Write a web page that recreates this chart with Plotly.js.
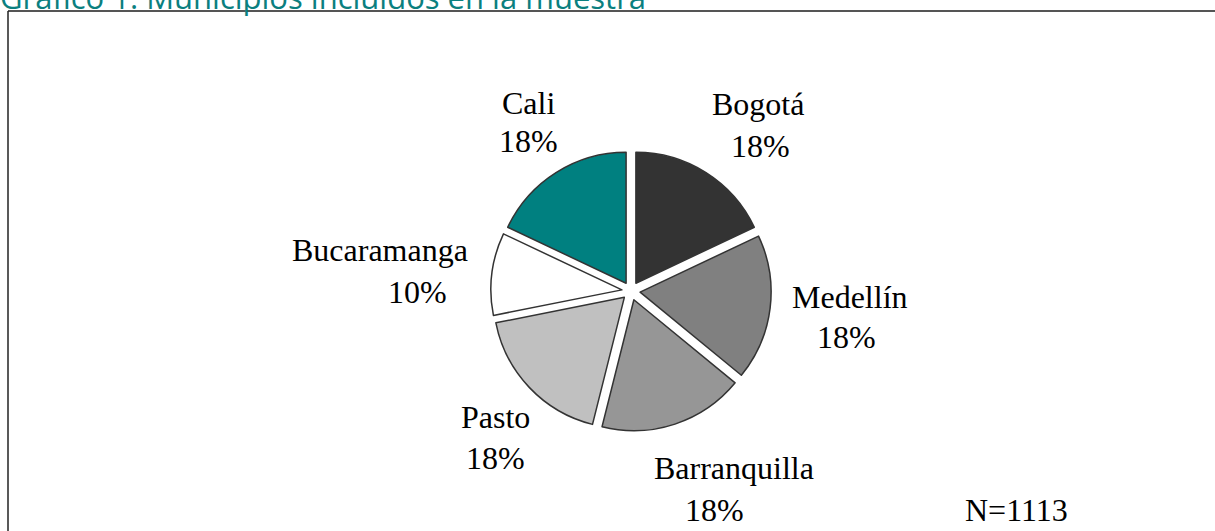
<!DOCTYPE html>
<html>
<head>
<meta charset="utf-8">
<script src="https://cdn.plot.ly/plotly-3.0.1.min.js"></script>
<style>html,body{margin:0;padding:0;background:#fff;}#chart{width:1215px;height:531px;}</style>
</head>
<body>
<div id="chart"></div>
<script>
// ---- data ----
const titleText = 'Gráfico 1: Municipios incluidos en la muestra';
const labels = ['Bogotá', 'Medellín', 'Barranquilla', 'Pasto', 'Bucaramanga', 'Cali'];
const values = [200, 200, 200, 200, 113, 200];
const sampleNote = 'N=1113';

// ---- styles / layout ----
const colors = ['#333333', '#808080', '#969696', '#c0c0c0', '#ffffff', '#008080'];
const W = 1215, H = 531;
// label centres in pixels: [name x, name y, pct x, pct y]
const labelPos = [
  [758, 104, 760, 146],
  [850, 297, 846, 337],
  [734, 468, 714, 510],
  [495, 417, 495, 458],
  [380, 250, 417, 292],
  [528, 103, 528, 141]
];
const cx = 631, cy = 291, r = 131, pull = 0.07;
const half = r * (1 + pull);

const total = values.reduce((a, b) => a + b, 0);
const pct = values.map(v => Math.round(100 * v / total) + '%');

const px = x => x / W;
const py = y => 1 - y / H;
const serif = {family: 'Liberation Serif, Times New Roman, serif', size: 32, color: '#000'};

const annotations = [];
labels.forEach((lab, i) => {
  const p = labelPos[i];
  annotations.push({text: lab, x: px(p[0]), y: py(p[1]), xref: 'paper', yref: 'paper',
    xanchor: 'center', yanchor: 'middle', showarrow: false, font: serif});
  annotations.push({text: pct[i], x: px(p[2]), y: py(p[3]), xref: 'paper', yref: 'paper',
    xanchor: 'center', yanchor: 'middle', showarrow: false, font: serif});
});
annotations.push({text: sampleNote, x: px(1016), y: py(510), xref: 'paper', yref: 'paper',
  xanchor: 'center', yanchor: 'middle', showarrow: false, font: serif});
annotations.push({text: titleText, x: px(-2), y: py(-3), xref: 'paper', yref: 'paper',
  xanchor: 'left', yanchor: 'middle', showarrow: false,
  font: {family: 'Open Sans', size: 31, color: '#0b7f7f'}});

const trace = {
  type: 'pie',
  labels: labels,
  values: values,
  sort: false,
  direction: 'clockwise',
  rotation: 0,
  pull: values.map(() => pull),
  textinfo: 'none',
  marker: {colors: colors, line: {color: '#333333', width: 1.5}},
  domain: {x: [px(cx - half), px(cx + half)], y: [py(cy + half), py(cy - half)]},
  showlegend: false
};

const layout = {
  width: W, height: H,
  margin: {l: 0, r: 0, t: 0, b: 0},
  paper_bgcolor: '#fff',
  showlegend: false,
  annotations: annotations,
  shapes: [
    {type: 'line', xref: 'paper', yref: 'paper', x0: px(8), x1: 1.05, y0: py(11), y1: py(11),
      line: {color: '#555555', width: 2}},
    {type: 'line', xref: 'paper', yref: 'paper', x0: px(8), x1: px(8), y0: py(11), y1: -0.05,
      line: {color: '#222222', width: 1.5}}
  ]
};

Plotly.newPlot('chart', [trace], layout, {displayModeBar: false, staticPlot: true});
</script>
</body>
</html>
